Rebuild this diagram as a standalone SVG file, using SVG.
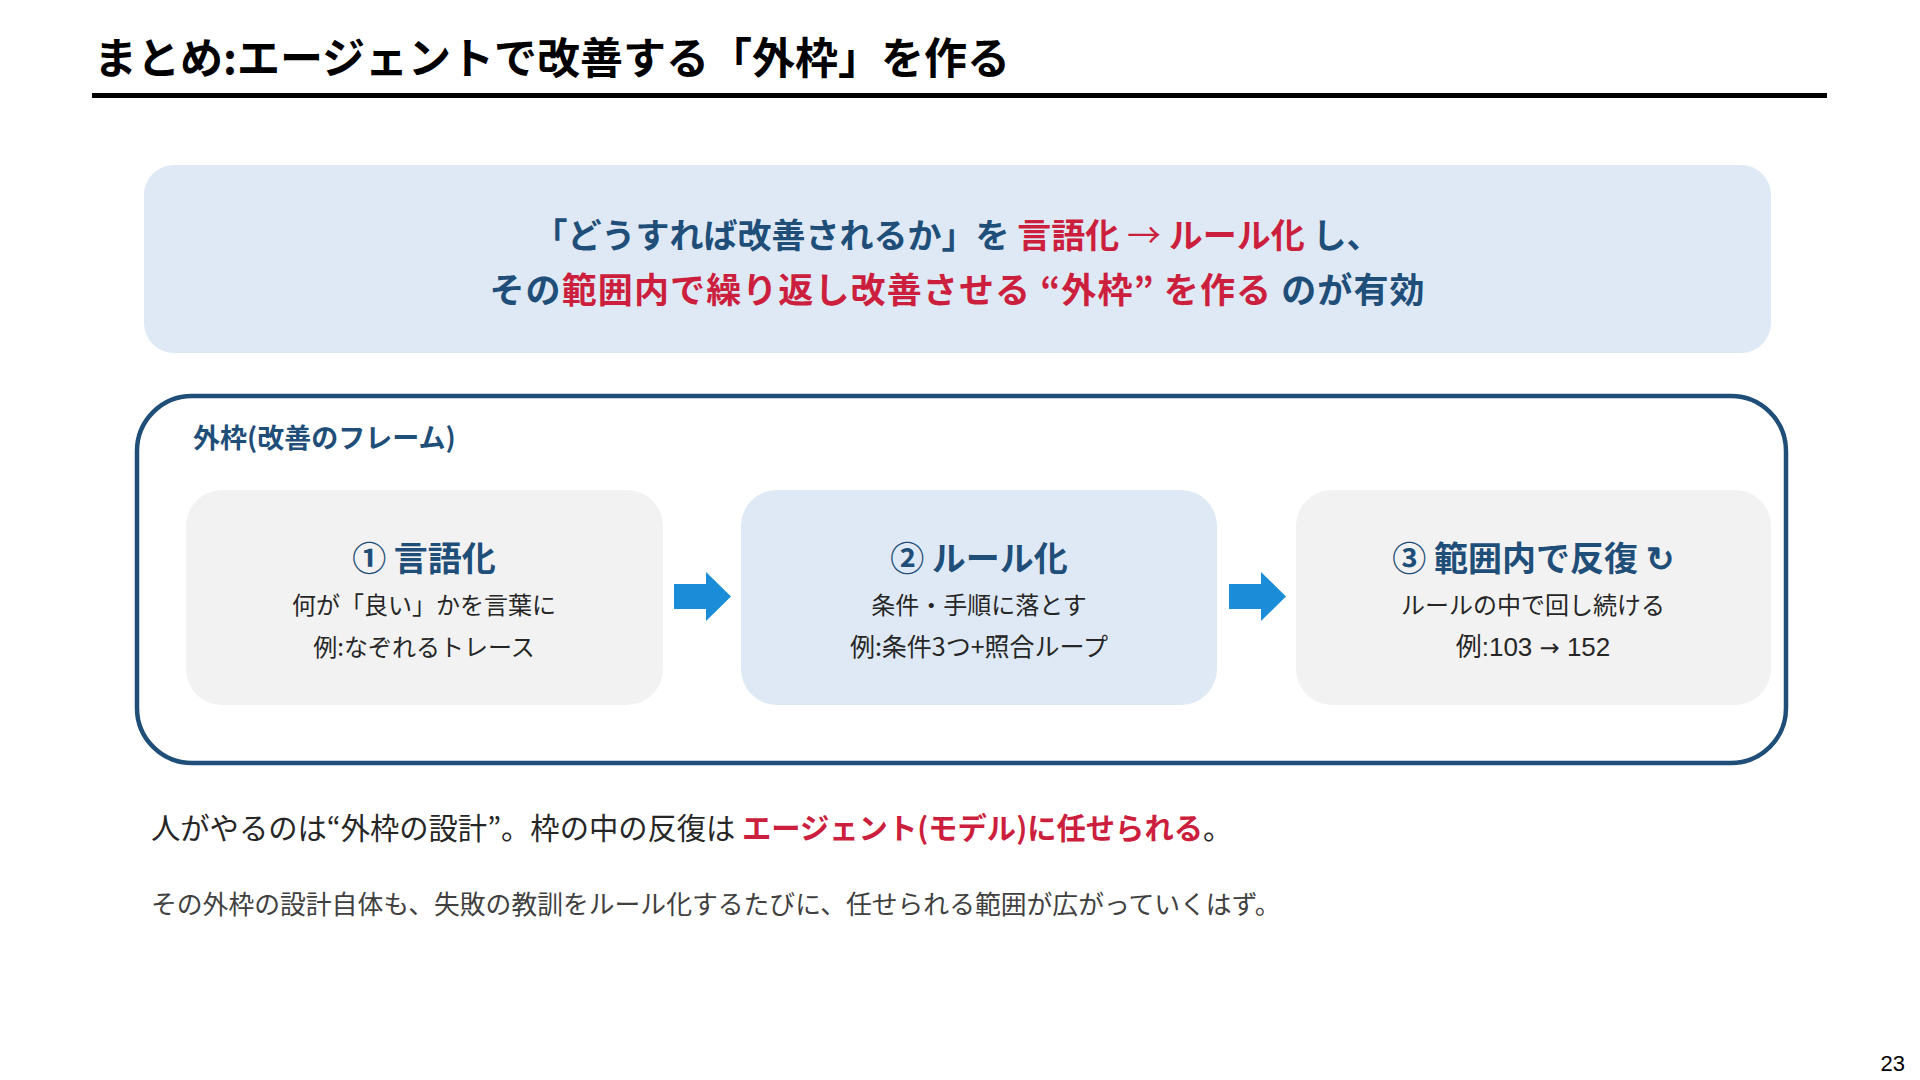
<svg xmlns="http://www.w3.org/2000/svg" width="1920" height="1080" viewBox="0 0 1920 1080">
<defs>
<style>
.jp{font-family:"Noto Sans CJK JP","Liberation Sans",sans-serif}
.b{font-weight:700}
.navy{fill:#1f4e79}
.red{fill:#cc1f3d}
.dark{fill:#262626}
.gray{fill:#404040}
.arrow{fill:#1a8cd8}
</style>
</defs>
<rect width="1920" height="1080" fill="#ffffff"/>
<g id="title">
<text class="jp b" x="94" y="74" font-size="43" fill="#000">まとめ:エージェントで改善する「外枠」を作る</text>
<rect x="92" y="93" width="1735" height="5" fill="#000"/>
</g>
<g id="summary">
<rect x="144" y="165" width="1627" height="188" rx="30" fill="#dee9f5"/>
<text class="jp b" x="957" y="248" font-size="34" text-anchor="middle"><tspan class="navy">「どうすれば改善されるか」を </tspan><tspan class="red">言語化 <tspan font-weight="400">→</tspan> ルール化</tspan><tspan class="navy"> し、</tspan></text>
<text class="jp b" x="957" y="303" font-size="35" text-anchor="middle" textLength="935" lengthAdjust="spacing"><tspan class="navy">その</tspan><tspan class="red">範囲内で繰り返し改善させる “外枠” を作る</tspan><tspan class="navy"> のが有効</tspan></text>
</g>
<g id="frame">
<rect x="137" y="396" width="1649" height="367" rx="55" fill="none" stroke="#1f4e79" stroke-width="4.5"/>
<text class="jp b navy" x="193" y="448" font-size="27">外枠(改善のフレーム)</text>
</g>
<g id="step1">
<rect x="186" y="490" width="477" height="215" rx="36" fill="#f2f2f2"/>
<text class="jp b navy" x="424" y="571" font-size="34" text-anchor="middle">① 言語化</text>
<text class="jp dark" x="424" y="614" font-size="24" text-anchor="middle">何が「良い」かを言葉に</text>
<text class="jp dark" x="424" y="656" font-size="24" text-anchor="middle">例:なぞれるトレース</text>
</g>
<g id="step2">
<rect x="741" y="490" width="476" height="215" rx="36" fill="#dee9f5"/>
<text class="jp b navy" x="979" y="571" font-size="34" text-anchor="middle">② ルール化</text>
<text class="jp dark" x="979" y="614" font-size="24" text-anchor="middle">条件・手順に落とす</text>
<text class="jp dark" x="979" y="656" font-size="25" text-anchor="middle">例:条件3つ+照合ループ</text>
</g>
<g id="step3">
<rect x="1296" y="490" width="475" height="215" rx="36" fill="#f2f2f2"/>
<text class="jp b navy" x="1533" y="571" font-size="34" text-anchor="middle">③ 範囲内で反復 ↻</text>
<text class="jp dark" x="1533" y="614" font-size="24" text-anchor="middle">ルールの中で回し続ける</text>
<text x="1533" y="656" font-size="26" text-anchor="middle" fill="#262626" font-family="Liberation Sans, Noto Sans CJK JP, sans-serif">例:103 <tspan font-family="DejaVu Sans, sans-serif" font-size="24">→</tspan> 152</text>
</g>
<g id="connectors">
<polygon class="arrow" points="674,584 706,584 706,572 731,596.5 706,621 706,609 674,609"/>
<polygon class="arrow" points="1229,584 1261,584 1261,572 1286,596.5 1261,621 1261,609 1229,609"/>
</g>
<g id="notes">
<text class="jp" x="151" y="839" font-size="29.3"><tspan class="dark">人がやるのは“外枠の設計”。枠の中の反復は </tspan><tspan class="red b">エージェント(モデル)に任せられる</tspan><tspan class="dark">。</tspan></text>
<text class="jp gray" x="151" y="914" font-size="25.8">その外枠の設計自体も、失敗の教訓をルール化するたびに、任せられる範囲が広がっていくはず。</text>
</g>
<text x="1905" y="1071" font-size="22" text-anchor="end" fill="#000" font-family="Liberation Sans, sans-serif">23</text>
</svg>
